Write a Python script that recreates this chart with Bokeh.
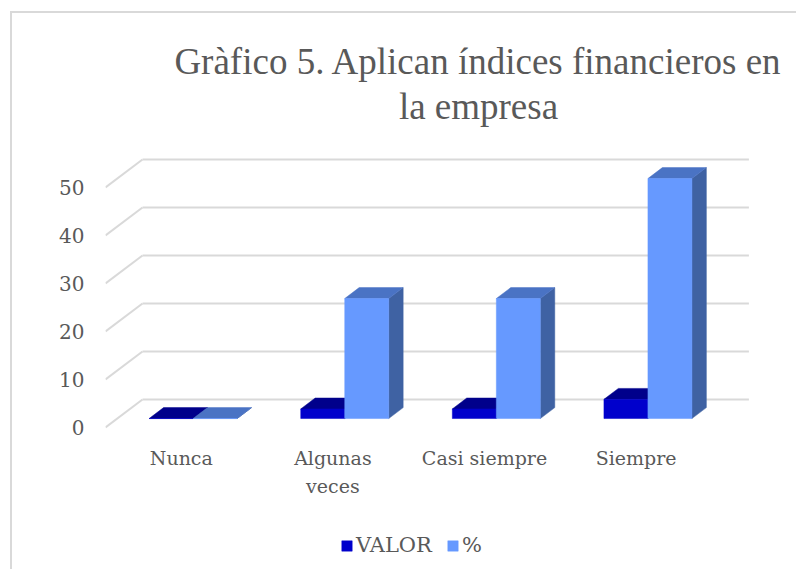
from bokeh.plotting import figure
from bokeh.models import Range1d, FixedTicker, Legend, LegendItem
from bokeh.embed import file_html
from bokeh.resources import INLINE
from bokeh.core.properties import value

# ---------------- data ----------------
categories = ["Nunca", "Algunas\nveces", "Casi siempre", "Siempre"]
valor = [0, 2, 2, 4]
porcentaje = [0, 25, 25, 50]
series_names = ["VALOR", "%"]
y_ticks = [0, 10, 20, 30, 40, 50]
title_lines = ["Gràfico 5. Aplican índices financieros en", "la empresa"]

# ---------------- style ----------------
FRONT = ["#0000CC", "#6699FF"]
TOP = ["#00008B", "#4A73C4"]
SIDE = ["#00006B", "#3F62A3"]
GRID = "#D9D9D9"
TEXT = "#595959"
SERIF = "DejaVu Serif"

# ---------------- layout (page pixels) ----------------
MARGIN_L, MARGIN_T, BORDER = 10, 11, 2
FIG_X, FIG_Y = MARGIN_L + BORDER, MARGIN_T + BORDER
W, H = 786, 558
FRAME_LEFT = 105
PX_PER_CAT = 151.6
PX_PER_UNIT = 4.8
ZERO_Y = 427
DEPTH_DX = 37 / PX_PER_CAT
DEPTH_DY = 28 / PX_PER_UNIT
Z_FRONT, Z_BACK = 0.32, 0.71
BAR_W = 44 / PX_PER_CAT


def px_to_x(px):
    return (px - FRAME_LEFT) / PX_PER_CAT


def px_to_y(py):
    return (ZERO_Y - py) / PX_PER_UNIT


x_range = Range1d(0, px_to_x(FIG_X + W))
y_range = Range1d(px_to_y(FIG_Y + H), px_to_y(FIG_Y))

p = figure(width=W, height=H, x_range=x_range, y_range=y_range,
           output_backend="svg", toolbar_location=None,
           x_axis_location=None, y_axis_location="left",
           min_border_left=FRAME_LEFT - FIG_X, min_border_right=0,
           min_border_top=0, min_border_bottom=0)
p.outline_line_color = None
p.xgrid.visible = False
p.ygrid.visible = False
p.styles = {"margin-left": f"{MARGIN_L}px", "margin-top": f"{MARGIN_T}px",
            "border-left": f"{BORDER}px solid {GRID}",
            "border-top": f"{BORDER}px solid {GRID}"}

ax = p.yaxis[0]
ax.ticker = FixedTicker(ticks=y_ticks)
ax.axis_line_color = None
ax.major_tick_line_color = None
ax.minor_tick_line_color = None
ax.major_tick_out = 0
ax.major_label_standoff = 21
ax.major_label_text_font = SERIF
ax.major_label_text_font_size = "20px"
ax.major_label_text_color = TEXT

# ---------------- 3D grid ----------------
n = len(categories)
p.segment(x0=[0] * len(y_ticks), y0=y_ticks,
          x1=[DEPTH_DX] * len(y_ticks), y1=[t + DEPTH_DY for t in y_ticks],
          line_color=GRID, line_width=2)
p.segment(x0=[DEPTH_DX] * len(y_ticks), y0=[t + DEPTH_DY for t in y_ticks],
          x1=[n + DEPTH_DX] * len(y_ticks), y1=[t + DEPTH_DY for t in y_ticks],
          line_color=GRID, line_width=2)

# ---------------- 3D bars ----------------
fx, fy = Z_FRONT * DEPTH_DX, Z_FRONT * DEPTH_DY
bx, by = Z_BACK * DEPTH_DX, Z_BACK * DEPTH_DY
front_renderers = []
for s, vals in enumerate([valor, porcentaje]):
    lefts, rights, tops = [], [], []
    top_xs, top_ys, side_xs, side_ys = [], [], [], []
    for i, v in enumerate(vals):
        xl = i + 0.5 + (s - 1) * BAR_W
        xr = xl + BAR_W
        lefts.append(xl + fx)
        rights.append(xr + fx)
        tops.append(v + fy)
        top_xs.append([xl + fx, xr + fx, xr + bx, xl + bx])
        top_ys.append([v + fy, v + fy, v + by, v + by])
        side_xs.append([xr + fx, xr + bx, xr + bx, xr + fx])
        side_ys.append([fy, by, v + by, v + fy])
    p.patches(side_xs, side_ys, fill_color=SIDE[s], line_color=SIDE[s], line_width=0.5)
    p.patches(top_xs, top_ys, fill_color=TOP[s], line_color=TOP[s], line_width=0.5)
    r = p.quad(left=lefts, right=rights, bottom=[fy] * n, top=tops,
               fill_color=FRONT[s], line_color=FRONT[s], line_width=0.5)
    front_renderers.append(r)

# ---------------- texts ----------------
p.text(x=[i + 0.5 for i in range(n)], y=[px_to_y(446)] * n, text=categories,
       text_align="center", text_baseline="top",
       text_font=value(SERIF), text_font_size="19px", text_color=TEXT,
       text_line_height=1.3)

p.text(x=[px_to_x(478)] * 2, y=[px_to_y(61), px_to_y(106)], text=title_lines,
       text_align="center", text_baseline="middle",
       text_font=value("Liberation Serif"), text_font_size="37px", text_color=TEXT)

legend = Legend(items=[LegendItem(label=value(series_names[k]), renderers=[front_renderers[k]])
                       for k in range(2)],
                orientation="horizontal", location=(340 - FRAME_LEFT, FIG_Y + H - 557),
                label_text_font=SERIF, label_text_font_size="21px",
                label_text_color=TEXT, glyph_width=13, glyph_height=13,
                spacing=14, label_standoff=3, padding=0, margin=0,
                border_line_color=None, background_fill_alpha=0)
p.add_layout(legend)

open("out.html", "w").write(file_html(p, INLINE))
